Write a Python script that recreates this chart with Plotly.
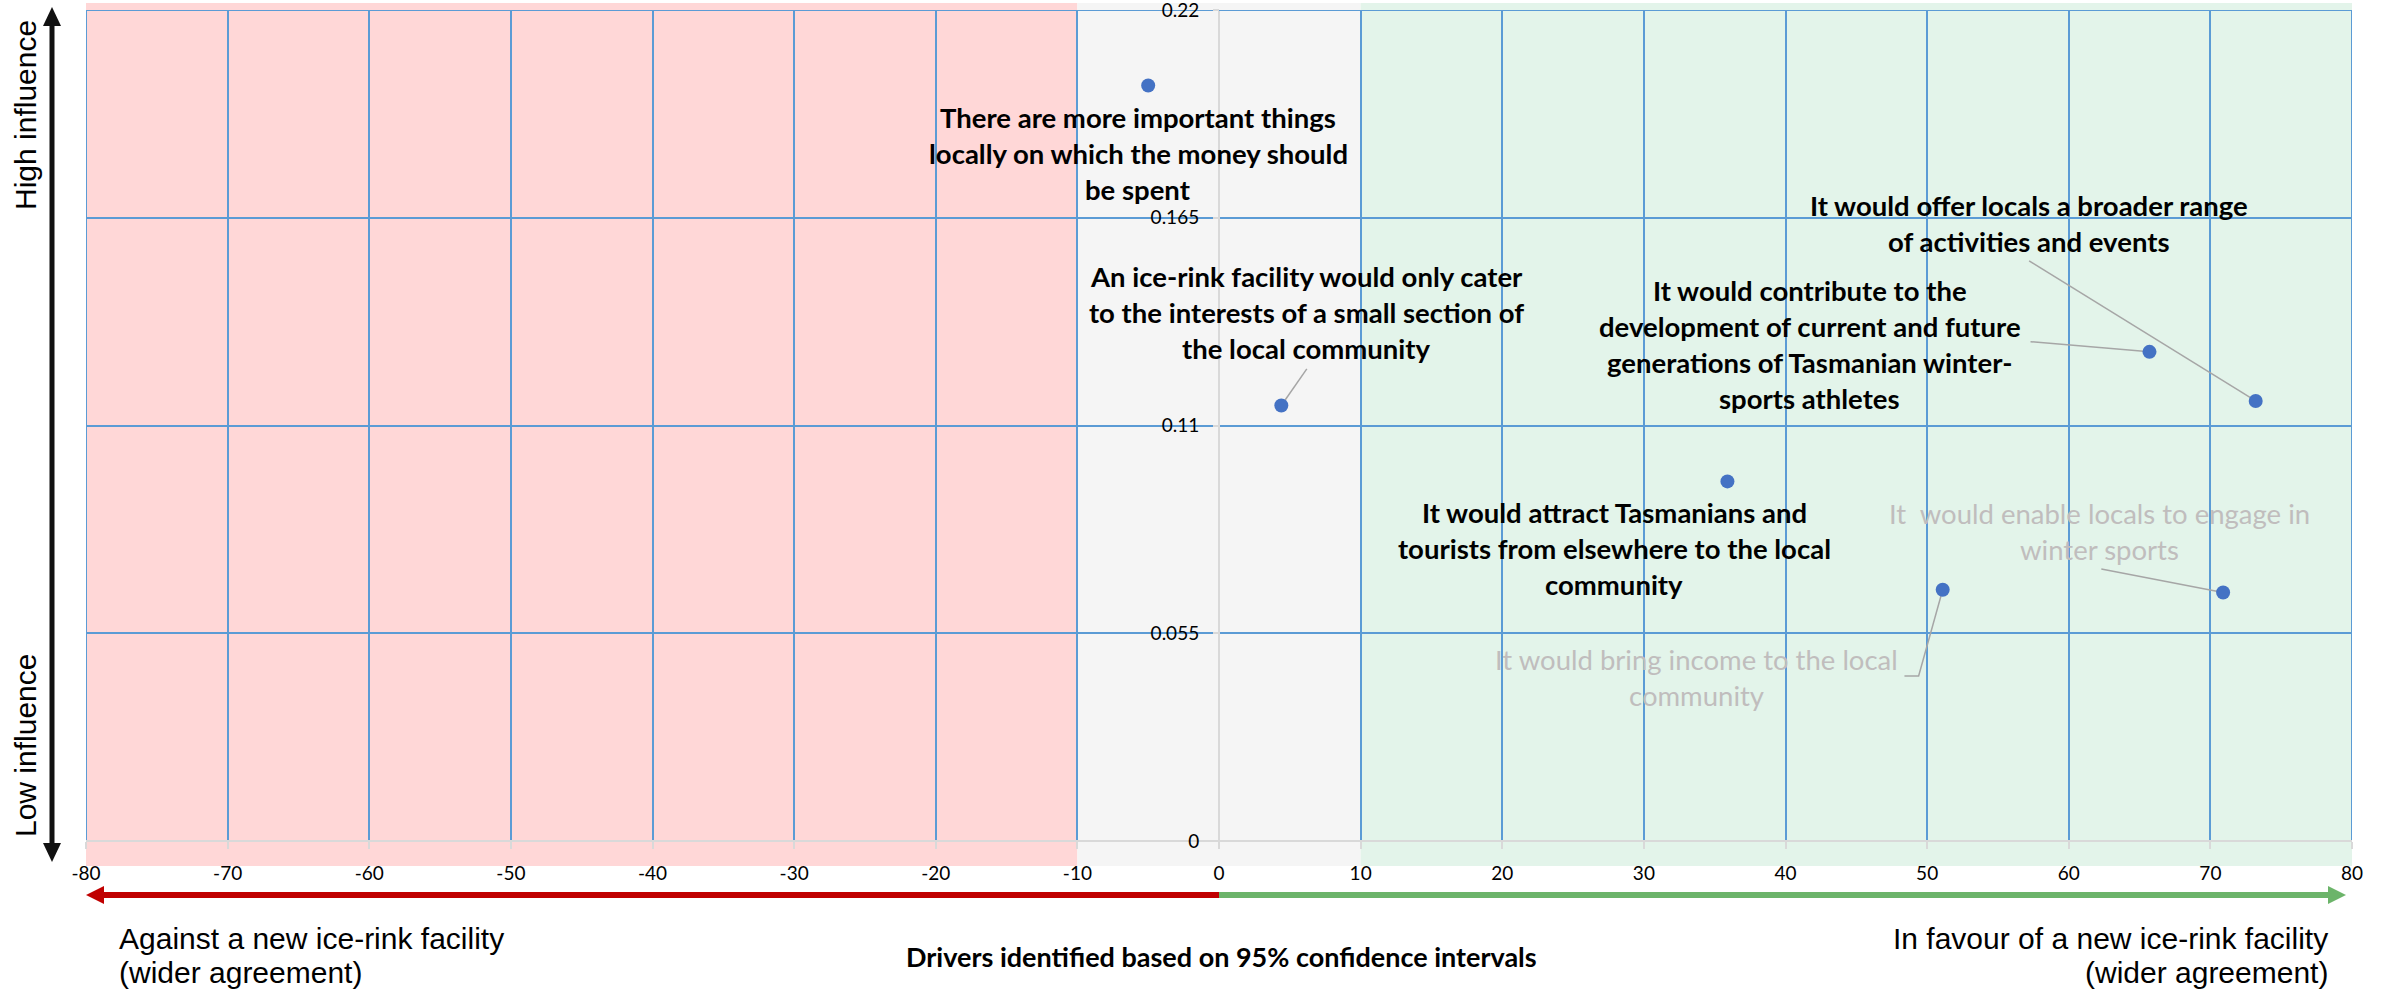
import plotly.graph_objects as go

# figure geometry (pixels)
W, H = 2387, 989
ML, MR, MT, MB = 86, 35, 10, 148
PW, PH = W - ML - MR, H - MT - MB


def px(x):
    return (x - ML) / PW


def py(y):
    return (H - MB - y) / PH


# drivers of support / opposition
drivers = [
    "There are more important things<br>locally on which the money should<br>be spent",
    "An ice-rink facility would only cater<br>to the interests of a small section of<br>the local community",
    "It would offer locals a broader range<br>of activities and events",
    "It would contribute to the<br>development of current and future<br>generations of Tasmanian winter-<br>sports athletes",
    "It would attract Tasmanians and<br>tourists from elsewhere to the local<br>community",
    "It would bring income to the local<br>community",
    "It  would enable locals to engage in<br>winter sports",
]
agreement = [-5.0, 4.4, 73.2, 65.7, 35.9, 51.1, 70.9]
influence = [0.200, 0.1153, 0.1165, 0.1295, 0.0952, 0.0665, 0.0658]
significant = [True, True, True, True, True, False, False]

# label centres and leader-line starts
label_x = [-5.7, 6.2, 57.2, 41.7, 27.9, 33.7, 62.2]
label_y = [0.1819, 0.140, 0.1636, 0.1315, 0.0775, 0.0432, 0.082]
leader_x = [None, 6.2, 57.2, 57.3, None, 48.4, 62.3]
leader_y = [None, 0.125, 0.1536, 0.1322, None, 0.0437, 0.072]
leader_elbow = [None, None, None, None, None, 49.4, None]

zones = [(-80, -10, "#FFD7D7"), (-10, 10, "#F5F5F5"), (10, 80, "#E3F4EA")]
x_ticks = list(range(-80, 81, 10))
x_ticktext = [str(v) for v in x_ticks]
y_ticks = [0, 0.055, 0.11, 0.165, 0.22]
y_ticktext = ["0", "0.055", "0.11", "0.165", "0.22"]

LABEL_FONT = "Lato"
SIDE_FONT = "Liberation Sans"
GRID = "#5B9BD5"
AXIS = "#D9D9D9"

fig = go.Figure()
fig.add_trace(go.Scatter(
    x=agreement, y=influence, mode="markers",
    marker=dict(color="#4472C4", size=14),
    hoverinfo="skip", showlegend=False, cliponaxis=False,
))

shapes = []
for x0, x1, col in zones:
    shapes.append(dict(type="rect", xref="x", yref="paper", x0=x0, x1=x1,
                       y0=py(866), y1=py(3), fillcolor=col, line_width=0, layer="below"))

# plot border (grid lines at the range ends)
for x0, y0, x1, y1 in [(-80, 0, -80, 0.22), (80, 0, 80, 0.22), (-80, 0.22, 80, 0.22)]:
    shapes.append(dict(type="line", xref="x", yref="y", x0=x0, y0=y0, x1=x1, y1=y1,
                       line=dict(color=GRID, width=2), layer="between"))
shapes.append(dict(type="line", xref="x", yref="y", x0=-80, y0=0, x1=80, y1=0,
                   line=dict(color=AXIS, width=2), layer="between"))

# leader lines
for i in range(len(drivers)):
    if leader_x[i] is None:
        continue
    if leader_elbow[i] is not None:
        path = "M {},{} L {},{} L {},{}".format(
            leader_x[i], leader_y[i], leader_elbow[i], leader_y[i], agreement[i], influence[i])
        shapes.append(dict(type="path", xref="x", yref="y", path=path,
                           line=dict(color="#A6A6A6", width=1.5), layer="between"))
    else:
        shapes.append(dict(type="line", xref="x", yref="y",
                           x0=leader_x[i], y0=leader_y[i], x1=agreement[i], y1=influence[i],
                           line=dict(color="#A6A6A6", width=1.5), layer="between"))

# vertical influence arrow (double headed)
ax_x = 52
shapes.append(dict(type="line", xref="paper", yref="paper", x0=px(ax_x), x1=px(ax_x),
                   y0=py(24), y1=py(846), line=dict(color="#111111", width=5)))
for tip, base in [(7, 26), (862, 843)]:
    shapes.append(dict(type="path", xref="paper", yref="paper",
                       path="M {},{} L {},{} L {},{} Z".format(
                           px(ax_x), py(tip), px(ax_x - 9), py(base), px(ax_x + 9), py(base)),
                       fillcolor="#111111", line_width=0))

# horizontal agreement arrows
arr_y = 895
zero_px = ML + PW / 2
for tip, base, col in [(86, 104, "#C00000"), (2346, 2328, "#6CB46A")]:
    shapes.append(dict(type="line", xref="paper", yref="paper", x0=px(zero_px), x1=px(base),
                       y0=py(arr_y), y1=py(arr_y), line=dict(color=col, width=6)))
    shapes.append(dict(type="path", xref="paper", yref="paper",
                       path="M {},{} L {},{} L {},{} Z".format(
                           px(tip), py(arr_y), px(base), py(arr_y - 9), px(base), py(arr_y + 9)),
                       fillcolor=col, line_width=0))

annotations = []
LINE_H = 36
for i, txt in enumerate(drivers):
    lines = txt.split("<br>")
    n = len(lines)
    for k, ln in enumerate(lines):
        annotations.append(dict(
            x=label_x[i], y=label_y[i], xref="x", yref="y", text=ln, showarrow=False,
            xanchor="center", yanchor="middle", yshift=-(k - (n - 1) / 2) * LINE_H,
            font=dict(family=LABEL_FONT, size=27.5,
                      color="#000000" if significant[i] else "#C0BDBD",
                      weight="bold" if significant[i] else "normal"),
        ))


def paper_text(x, y, text, xanchor="center", size=30, angle=0, family=SIDE_FONT, weight="normal"):
    return dict(x=px(x), y=py(y), xref="paper", yref="paper", text=text, textangle=angle,
                xanchor=xanchor, yanchor="middle", showarrow=False,
                font=dict(family=family, size=size, color="#000000", weight=weight))


annotations += [
    paper_text(25, 115, "High influence", angle=-90),
    paper_text(25, 746, "Low influence", angle=-90),
    paper_text(117, 938, "Against a new ice-rink facility", xanchor="left"),
    paper_text(117, 972, "(wider agreement)", xanchor="left"),
    paper_text(2330, 938, "In favour of a new ice-rink facility", xanchor="right"),
    paper_text(2330, 972, "(wider agreement)", xanchor="right"),
    paper_text(1221, 956, "Drivers identified based on 95% confidence intervals",
               size=27, family=LABEL_FONT, weight="bold"),
]

fig.update_layout(
    width=W, height=H, autosize=False,
    margin=dict(l=ML, r=MR, t=MT, b=MB, pad=0),
    paper_bgcolor="white", plot_bgcolor="white",
    shapes=shapes, annotations=annotations,
    showlegend=False,
    xaxis=dict(range=[-80, 80], tickvals=x_ticks, ticktext=x_ticktext,
               showgrid=True, gridcolor=GRID, gridwidth=2,
               zeroline=True, zerolinecolor=AXIS, zerolinewidth=2,
               ticks="outside", ticklen=7, tickcolor=AXIS, tickwidth=2,
               ticklabelstandoff=8, showline=False, ticklabeloverflow="allow",
               automargin=False,
               tickfont=dict(family=LABEL_FONT, size=19, color="#000000")),
    yaxis=dict(range=[0, 0.22 + 1e-9], tickvals=y_ticks, ticktext=y_ticktext,
               showgrid=True, gridcolor=GRID, gridwidth=2,
               zeroline=True, zerolinecolor=AXIS, zerolinewidth=2,
               anchor="free", position=0.5, showline=False,
               ticks="outside", ticklen=6, tickcolor=AXIS, tickwidth=2,
               ticklabelstandoff=10, ticklabeloverflow="allow", automargin=False,
               tickfont=dict(family=LABEL_FONT, size=19, color="#000000")),
)

fig.write_html("out.html", config={"displayModeBar": False},
               post_script="document.body.style.margin='0';document.body.style.overflow='hidden';")
